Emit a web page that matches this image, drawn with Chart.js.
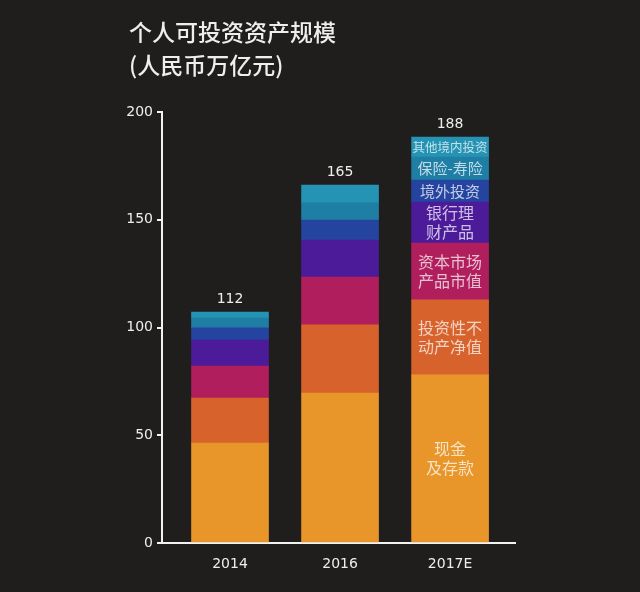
<!DOCTYPE html>
<html><head><meta charset="utf-8">
<script src="https://cdn.jsdelivr.net/npm/chart.js@4/dist/chart.umd.min.js"></script>
<style>html,body{margin:0;padding:0;background:#1f1e1c;}canvas{display:block;}</style>
</head><body>
<canvas id="c" width="640" height="592"></canvas>
<script>
// ---- data ----
const categories = ['2014', '2016', '2017E'];
const totalLabels = ['112', '165', '188'];
const seriesNames = ['现金及存款', '投资性不动产净值', '资本市场产品市值', '银行理财产品', '境外投资', '保险-寿险', '其他境内投资'];
const segmentLabelLines = [['现金', '及存款'], ['投资性不', '动产净值'], ['资本市场', '产品市值'], ['银行理', '财产品'], ['境外投资'], ['保险-寿险'], ['其他境内投资']];
const cashDeposits = [46.4, 69.6, 78.0];
const propertyNet = [20.9, 31.6, 34.8];
const capitalMarket = [14.8, 22.2, 26.4];
const bankWealth = [12.1, 17.2, 19.0];
const overseas = [5.6, 9.3, 10.2];
const lifeInsurance = [4.6, 7.9, 10.7];
const otherDomestic = [2.8, 8.3, 9.3];
const yTicks = [0, 50, 100, 150, 200];
const titleLines = ['个人可投资资产规模', '(人民币万亿元)'];

const seriesValues = [cashDeposits, propertyNet, capitalMarket, bankWealth, overseas, lifeInsurance, otherDomestic];
const colors = ['#e8952a', '#d8622b', '#b11e5d', '#4b1b99', '#2444a0', '#1f7ea4', '#2593b3'];
const labelSizes = [16, 16, 16, 16, 15, 15, 12.5];

const BG = '#1f1e1c';
const FG = '#eeeeee';

const decor = {
  id: 'decor',
  beforeDraw(chart) {
    const ctx = chart.ctx;
    ctx.save();
    ctx.fillStyle = BG;
    ctx.fillRect(0, 0, chart.width, chart.height);
    ctx.fillStyle = FG;
    ctx.font = '500 23px "Noto Sans CJK SC"';
    ctx.textAlign = 'left';
    ctx.textBaseline = 'middle';
    ctx.fillText(titleLines[0], 129, 32);
    ctx.fillText(titleLines[1], 129, 65);
    ctx.restore();
  },
  afterDatasetsDraw(chart) {
    const ctx = chart.ctx;
    ctx.save();
    const lastMeta = chart.getDatasetMeta(chart.data.datasets.length - 1);
    ctx.fillStyle = FG;
    ctx.font = '14px "DejaVu Sans"';
    ctx.textAlign = 'center';
    ctx.textBaseline = 'bottom';
    lastMeta.data.forEach((el, i) => {
      ctx.fillText(totalLabels[i], el.x, el.y - 6);
    });
    const idx = categories.length - 1;
    ctx.textBaseline = 'middle';
    chart.data.datasets.forEach((ds, d) => {
      const el = chart.getDatasetMeta(d).data[idx];
      const mid = (el.y + el.base) / 2;
      const lines = segmentLabelLines[d];
      const size = labelSizes[d];
      const lh = size * 1.18;
      ctx.font = size + 'px "Noto Sans CJK SC"';
      ctx.fillStyle = 'rgba(255,255,255,0.72)';
      lines.forEach((t, k) => {
        const y = mid + (k - (lines.length - 1) / 2) * lh;
        ctx.fillText(t, el.x, y);
      });
    });
    ctx.restore();
  }
};

new Chart(document.getElementById('c'), {
  type: 'bar',
  data: {
    datasets: seriesNames.map((name, d) => ({
      label: name,
      data: seriesValues[d].map((v, i) => ({ x: i, y: v })),
      backgroundColor: colors[d],
      borderWidth: 0,
      barThickness: 77
    }))
  },
  options: {
    responsive: false,
    animation: false,
    layout: { padding: { left: 0, right: 125, top: 112, bottom: 0 } },
    plugins: { legend: { display: false }, tooltip: { enabled: false }, title: { display: false } },
    scales: {
      x: {
        type: 'linear',
        stacked: true,
        offset: false,
        min: -0.618,
        max: 2.59,
        afterBuildTicks: (axis) => { axis.ticks = categories.map((_, i) => ({ value: i })); },
        afterFit: (axis) => { axis.height = 49; },
        grid: { display: false, offset: false },
        border: { display: true, color: '#f2f2f2', width: 2 },
        ticks: {
          color: FG,
          font: { family: 'DejaVu Sans', size: 14 },
          padding: 5,
          maxRotation: 0,
          callback: (v) => categories[v]
        }
      },
      y: {
        stacked: true,
        min: 0,
        max: 200,
        afterBuildTicks: (axis) => { axis.ticks = yTicks.map(v => ({ value: v })); },
        afterFit: (axis) => { axis.width = 162; },
        grid: { display: true, drawOnChartArea: false, drawTicks: true, tickLength: 5, color: '#f2f2f2', lineWidth: 2 },
        border: { display: true, color: '#f2f2f2', width: 2 },
        ticks: {
          color: FG,
          font: { family: 'DejaVu Sans', size: 14 },
          padding: 4
        }
      }
    }
  },
  plugins: [decor]
});
</script>
</body></html>
